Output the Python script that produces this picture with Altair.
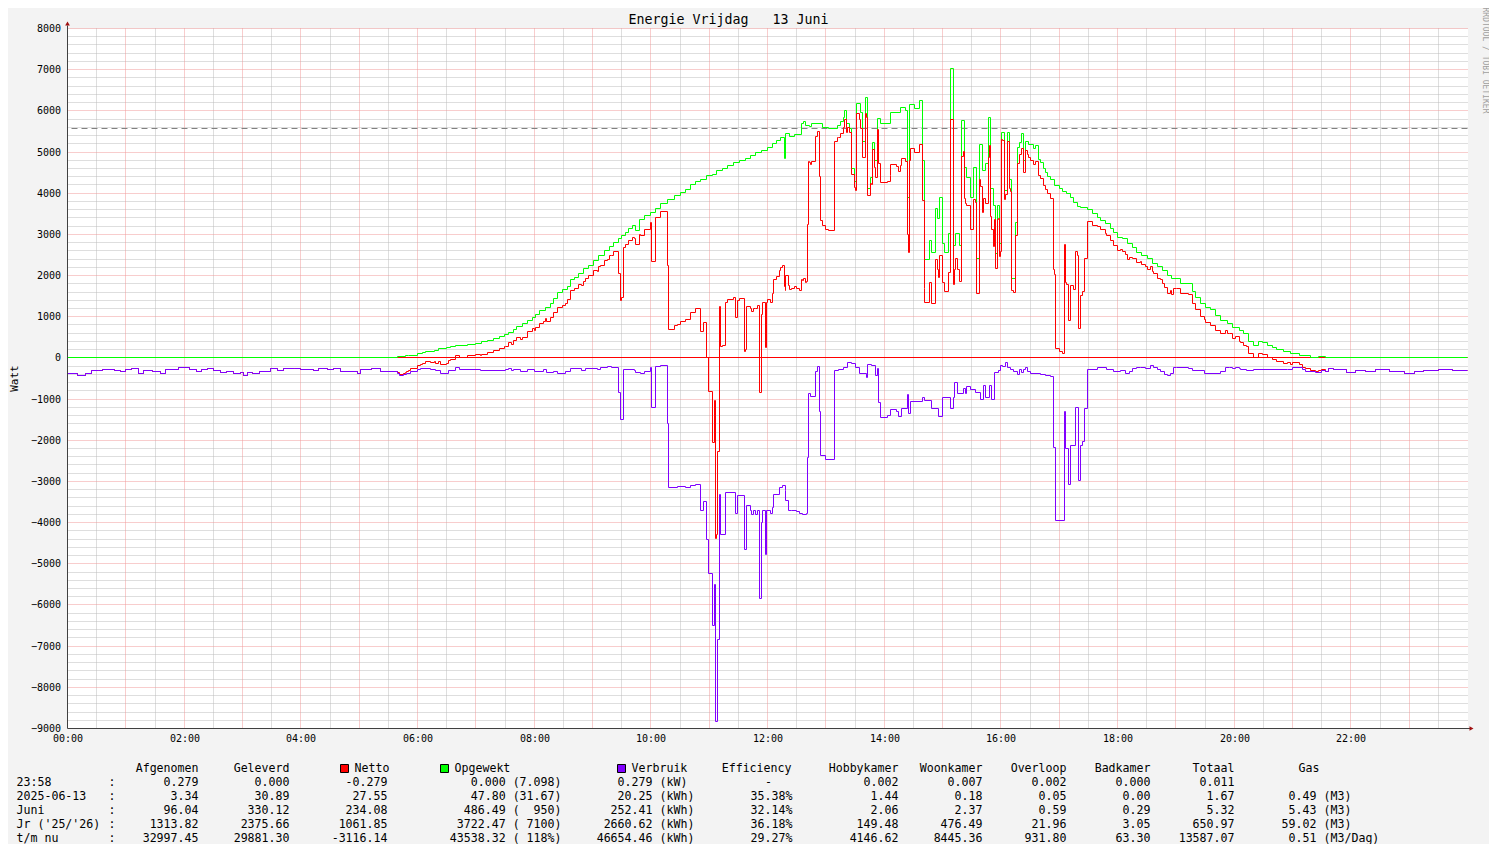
import altair as alt
import pandas as pd

MONO = "DejaVu Sans Mono"
NB = "\u00a0"

TITLE = "Energie Vrijdag   13 Juni"
Y_LABEL = "Watt"
WATERMARK = "RRDTOOL / TOBI OETIKER"

# ---- Opgewekt (generated power, W), step changes ----
GEN_T = ["00:00", "05:39", "05:48", "05:51", "06:00", "06:05", "06:08", "06:17", "06:22", "06:30",
         "06:34", "06:39", "06:51", "07:00", "07:06", "07:12", "07:18", "07:24", "07:29", "07:34",
         "07:39", "07:42", "07:48", "07:53", "07:58", "08:01", "08:06", "08:12", "08:17", "08:20",
         "08:24", "08:29", "08:34", "08:37", "08:41", "08:46", "08:51", "08:56", "09:01", "09:06",
         "09:12", "09:17", "09:22", "09:27", "09:30", "09:34", "09:37", "09:41", "09:44", "09:48",
         "09:53", "10:00", "10:05", "10:10", "10:17", "10:24", "10:30", "10:36", "10:41", "10:46",
         "10:51", "10:57", "11:03", "11:08", "11:14", "11:19", "11:25", "11:31", "11:37", "11:42",
         "11:48", "11:54", "12:00", "12:05", "12:09", "12:13", "12:17", "12:19", "12:23", "12:28",
         "12:35", "12:37", "12:39", "12:43", "12:45", "12:57", "13:03", "13:12", "13:15", "13:18",
         "13:19", "13:21", "13:24", "13:26", "13:29", "13:32", "13:36", "13:38", "13:41", "13:43",
         "13:46", "13:48", "13:50", "13:53", "13:56", "14:07", "14:17", "14:22", "14:24", "14:26",
         "14:31", "14:36", "14:39", "14:41", "14:42", "14:47", "14:49", "14:53", "14:55", "14:57",
         "15:00", "15:02", "15:06", "15:08", "15:11", "15:13", "15:17", "15:20", "15:23", "15:25",
         "15:29", "15:32", "15:35", "15:38", "15:41", "15:44", "15:47", "15:49", "15:52", "15:55",
         "15:57", "15:59", "16:01", "16:04", "16:07", "16:09", "16:11", "16:15", "16:17", "16:19",
         "16:21", "16:23", "16:25", "16:28", "16:34", "16:36", "16:39", "16:41", "16:44", "16:46",
         "16:48", "16:51", "16:55", "17:00", "17:03", "17:08", "17:12", "17:15", "17:19", "17:22",
         "17:29", "17:34", "17:39", "17:43", "17:48", "17:53", "17:56", "18:00", "18:05", "18:10",
         "18:15", "18:20", "18:25", "18:31", "18:36", "18:41", "18:46", "18:51", "18:56", "19:05",
         "19:17", "19:20", "19:25", "19:31", "19:36", "19:41", "19:46", "19:53", "19:58", "20:05",
         "20:10", "20:15", "20:20", "20:25", "20:29", "20:34", "20:39", "20:44", "20:51", "20:58",
         "21:07", "21:19", "21:27", "21:34"]
GEN_W = [0, 32, 57, 65, 97, 121, 154, 178, 219, 243,
         267, 292, 324, 356, 389, 421, 470, 527, 567, 624,
         689, 761, 826, 907, 988, 1053, 1150, 1231, 1328, 1434,
         1596, 1652, 1733, 1895, 1960, 2057, 2163, 2244, 2365, 2487,
         2608, 2705, 2811, 2892, 2973, 3054, 3135, 3216, 3100, 3353,
         3459, 3540, 3621, 3742, 3839, 3945, 4010, 4100, 4200, 4290,
         4340, 4420, 4460, 4560, 4600, 4680, 4740, 4790, 4840, 4920,
         4980, 5040, 5110, 5200, 5280, 5360, 4840, 5460, 5380, 5420,
         5690, 5730, 5650, 5620, 5700, 5600, 5570, 5650, 5750, 5830,
         6010, 5690, 5570, 4590, 4290, 6170, 5950, 5260, 6320, 4110,
         4390, 5240, 4800, 5810, 5690, 5950, 6090, 6010, 3900, 6150,
         6050, 6240, 4800, 2650, 2380, 2850, 2570, 3620, 3380, 3900,
         2790, 2570, 3030, 7020, 2730, 3010, 2730, 5770, 4620, 4390,
         3900, 4620, 2410, 5180, 4550, 4710, 5830, 4110, 3700, 2530,
         3700, 2770, 5480, 4070, 5480, 4330, 1920, 3300, 5120, 5240,
         5440, 4800, 5265, 5180, 5080, 5160, 4810, 4755, 4590, 4510,
         4410, 4330, 4190, 4110, 4050, 3985, 3900, 3780, 3680, 3645,
         3600, 3515, 3420, 3340, 3260, 3135, 3055, 2930, 2890, 2770,
         2690, 2570, 2490, 2405, 2300, 2230, 2120, 2000, 1920, 1800,
         1620, 1475, 1310, 1230, 1165, 1030, 905, 825, 745, 665,
         585, 405, 300, 405, 380, 300, 260, 195, 160, 113,
         57, 16, 32, 0]

# ---- Verbruik (consumption, W, drawn negative), step changes ----
USE_T = ["00:00", "00:10", "00:18", "00:25", "00:32", "00:36", "00:48", "00:54", "01:00", "01:06",
         "01:13", "01:18", "01:27", "01:36", "01:41", "01:54", "02:05", "02:13", "02:18", "02:24",
         "02:30", "02:37", "02:44", "02:51", "02:58", "03:01", "03:05", "03:10", "03:18", "03:29",
         "03:36", "03:42", "03:53", "04:00", "04:13", "04:18", "04:27", "04:34", "04:41", "04:58",
         "05:01", "05:13", "05:22", "05:39", "05:41", "05:46", "05:49", "05:53", "06:00", "06:03",
         "06:13", "06:18", "06:24", "06:32", "06:39", "06:43", "07:05", "07:30", "07:34", "07:37",
         "07:39", "07:46", "07:53", "08:00", "08:10", "08:13", "08:20", "08:24", "08:32", "08:37",
         "08:49", "08:53", "09:05", "09:08", "09:15", "09:20", "09:27", "09:29", "09:32", "09:43",
         "09:44", "09:49", "09:53", "10:00", "10:01", "10:05", "10:10", "10:17", "10:18", "10:27",
         "10:36", "10:41", "10:46", "10:51", "10:54", "10:57", "10:59", "11:03", "11:05", "11:07",
         "11:09", "11:11", "11:12", "11:17", "11:27", "11:29", "11:36", "11:38", "11:42", "11:44",
         "11:46", "11:48", "11:50", "11:52", "11:54", "11:55", "11:58", "11:59", "12:03", "12:05",
         "12:06", "12:12", "12:15", "12:18", "12:19", "12:22", "12:25", "12:30", "12:33", "12:36",
         "12:40", "12:41", "12:42", "12:44", "12:49", "12:51", "12:53", "12:55", "13:00", "13:09",
         "13:13", "13:18", "13:22", "13:26", "13:30", "13:35", "13:42", "13:43", "13:47", "13:51",
         "13:53", "13:54", "13:56", "14:03", "14:06", "14:13", "14:15", "14:18", "14:24", "14:25",
         "14:27", "14:39", "14:42", "14:49", "14:56", "15:00", "15:08", "15:11", "15:12", "15:15",
         "15:22", "15:24", "15:25", "15:29", "15:34", "15:39", "15:42", "15:44", "15:48", "15:50",
         "15:53", "15:58", "16:00", "16:02", "16:05", "16:07", "16:10", "16:13", "16:17", "16:19",
         "16:21", "16:23", "16:25", "16:27", "16:30", "16:41", "16:46", "16:51", "16:54", "16:56",
         "17:05", "17:06", "17:10", "17:12", "17:17", "17:20", "17:22", "17:24", "17:26", "17:29",
         "17:39", "17:49", "17:56", "18:03", "18:08", "18:12", "18:15", "18:20", "18:24", "18:29",
         "18:34", "18:37", "18:41", "18:44", "18:48", "18:51", "18:55", "18:58", "19:01", "19:13",
         "19:17", "19:29", "19:46", "19:51", "19:55", "19:58", "20:01", "20:05", "20:07", "20:13",
         "20:20", "20:55", "21:00", "21:10", "21:13", "21:24", "21:30", "21:34", "21:37", "21:42",
         "21:56", "22:05", "22:15", "22:25", "22:40", "22:55", "23:05", "23:15", "23:30", "23:45"]
USE_W = [-375, -430, -380, -300, -315, -275, -300, -325, -275, -265,
         -375, -315, -325, -380, -290, -235, -290, -325, -290, -245,
         -305, -355, -340, -375, -350, -415, -350, -375, -325, -265,
         -310, -260, -245, -285, -310, -260, -275, -245, -340, -375,
         -290, -265, -325, -375, -430, -405, -375, -325, -290, -245,
         -275, -310, -375, -310, -225, -275, -300, -290, -245, -310,
         -275, -325, -275, -325, -275, -355, -340, -375, -325, -265,
         -310, -245, -275, -243, -211, -227, -834, -1507, -292, -308,
         -356, -389, -340, -243, -1199, -211, -178, -1604, -3159, -3126,
         -3159, -3094, -3078, -3710, -3483, -4399, -5233, -6504, -5492, -8837,
         -6828, -3305, -4293, -3264, -3767, -3345, -4641, -3588, -3710, -3791,
         -3710, -3791, -3710, -5832, -3993, -3694, -4779, -3694, -3775, -3629,
         -3305, -3159, -3110, -3208, -3467, -3710, -3694, -3726, -3775, -3807,
         -3790, -2414, -875, -931, -324, -211, -1296, -2373, -2470, -308,
         -292, -227, -105, -146, -227, -389, -470, -162, -186, -429,
         -267, -1077, -1442, -1400, -1264, -1300, -1425, -1239, -899, -1350,
         -1053, -972, -1030, -1240, -1425, -956, -1239, -956, -591, -875,
         -750, -875, -697, -770, -850, -1020, -672, -956, -672, -1000,
         -348, -308, -186, -211, -105, -227, -292, -324, -405, -292,
         -348, -292, -227, -324, -389, -410, -429, -454, -2171, -3950,
         -1296, -2211, -3078, -2130, -1199, -2965, -2130, -2025, -1239, -292,
         -227, -292, -324, -308, -373, -324, -267, -243, -227, -267,
         -194, -243, -292, -324, -405, -437, -373, -243, -227, -267,
         -308, -373, -324, -243, -227, -267, -227, -267, -292, -308,
         -292, -270, -227, -292, -324, -348, -308, -324, -267, -292,
         -348, -300, -340, -290, -330, -380, -330, -300, -280, -300]

REF_W = 5570  # dashed reference line

Y_TICKS = list(range(-9000, 8001, 1000))
X_TICKS = list(range(0, 24, 2))

# ---- legend table ----
HEADERS = ["Afgenomen", "Geleverd", "Netto", "Opgewekt", "Verbruik", "Efficiency",
           "Hobbykamer", "Woonkamer", "Overloop", "Badkamer", "Totaal", "Gas"]
ROW_LABELS = ["23:58", "2025-06-13", "Juni", "Jr ('25/'26)", "t/m nu"]
AFGENOMEN = ["0.279", "3.34", "96.04", "1313.82", "32997.45"]
GELEVERD = ["0.000", "30.89", "330.12", "2375.66", "29881.30"]
NETTO = ["-0.279", "27.55", "234.08", "1061.85", "-3116.14"]
OPGEWEKT = ["0.000 (7.098)", "47.80 (31.67)", "486.49 (  950)", "3722.47 ( 7100)", "43538.32 ( 118%)"]
VERBRUIK_N = ["0.279", "20.25", "252.41", "2660.62", "46654.46"]
VERBRUIK_U = ["(kW)", "(kWh)", "(kWh)", "(kWh)", "(kWh)"]
EFFICIENCY = ["-", "35.38%", "32.14%", "36.18%", "29.27%"]
HOBBY = ["0.002", "1.44", "2.06", "149.48", "4146.62"]
WOON = ["0.007", "0.18", "2.37", "476.49", "8445.36"]
OVERLOOP = ["0.002", "0.05", "0.59", "21.96", "931.80"]
BAD = ["0.000", "0.00", "0.29", "3.05", "63.30"]
TOTAAL = ["0.011", "1.67", "5.32", "650.97", "13587.07"]
GAS_N = ["", "0.49", "5.43", "59.02", "0.51"]
GAS_U = ["", "(M3)", "(M3)", "(M3)", "(M3/Dag)"]

# ---- styling ----
GREEN = "#00ff00"
RED = "#ff0000"
PURPLE = "#8000ff"
GRID_MINOR = "#bdbdbd"
GRID_MAJOR = "#f09a9a"
AXIS_C = "#404040"
ARROW_C = "#a01010"
OX, OY = 67, 28  # page position of plot origin (incl. 8px page margin)


def hours(t):
    h, m = t.split(":")
    return int(h) + int(m) / 60.0


gen = pd.DataFrame({"h": [hours(t) for t in GEN_T], "w": GEN_W})
use = pd.DataFrame({"h": [hours(t) for t in USE_T], "w": USE_W})
gen = pd.concat([gen, pd.DataFrame({"h": [24.0], "w": [gen.w.iloc[-1]]})], ignore_index=True)
use = pd.concat([use, pd.DataFrame({"h": [24.0], "w": [use.w.iloc[-1]]})], ignore_index=True)
hh = sorted(set(gen.h) | set(use.h))
g = gen.set_index("h").w.reindex(hh).ffill().fillna(0)
u = use.set_index("h").w.reindex(hh).ffill()
net = pd.DataFrame({"h": hh, "w": (g + u).values})

XS = alt.Scale(domain=[0, 24], nice=False, zero=False, round=True)
YS = alt.Scale(domain=[-9000, 8000], nice=False, zero=False, round=True)
XAX = alt.Axis(values=X_TICKS, labelExpr="(datum.value < 10 ? '0' : '') + datum.value + ':00'",
               grid=False, domain=False, ticks=False, labelFont=MONO, labelFontSize=10,
               labelColor="#000000", labelPadding=5, title=None, labelFlush=False, labelOverlap=False)
YAX = alt.Axis(values=Y_TICKS, format="d", grid=False, domain=False, ticks=False, labelFont=MONO,
               labelFontSize=10, labelColor="#000000", labelPadding=7, title=None,
               labelFlush=False, labelOverlap=False)


def X(f):
    return alt.X(f, type="quantitative", scale=XS, axis=XAX)


def Y(f):
    return alt.Y(f, type="quantitative", scale=YS, axis=YAX)


layers = []
# grid
layers.append(alt.Chart(pd.DataFrame({"h": [i + 0.5 for i in range(24)]}))
              .mark_rule(color=GRID_MINOR, strokeDash=[1, 1], strokeWidth=1).encode(x=X("h")))
layers.append(alt.Chart(pd.DataFrame({"w": [v for v in range(-8800, 8000, 200) if v % 1000 != 0]}))
              .mark_rule(color=GRID_MINOR, strokeDash=[1, 1], strokeWidth=1).encode(y=Y("w")))
layers.append(alt.Chart(pd.DataFrame({"h": list(range(1, 24))}))
              .mark_rule(color=GRID_MAJOR, strokeDash=[1, 1], strokeWidth=1).encode(x=X("h")))
layers.append(alt.Chart(pd.DataFrame({"w": list(range(-8000, 8001, 1000))}))
              .mark_rule(color=GRID_MAJOR, strokeDash=[1, 1], strokeWidth=1).encode(y=Y("w")))
# reference dashed line and zero line
layers.append(alt.Chart(pd.DataFrame({"w": [REF_W]}))
              .mark_rule(color="#808080", strokeDash=[6, 4], strokeWidth=1).encode(y=Y("w")))
layers.append(alt.Chart(pd.DataFrame({"w": [0]}))
              .mark_rule(color=RED, strokeWidth=1).encode(y=Y("w")))
# series
layers.append(alt.Chart(gen).mark_line(interpolate="step-after", color=GREEN, strokeWidth=1)
              .encode(x=X("h"), y=Y("w")))
layers.append(alt.Chart(net).mark_line(interpolate="step-after", color=RED, strokeWidth=1)
              .encode(x=X("h"), y=Y("w")))
layers.append(alt.Chart(use).mark_line(interpolate="step-after", color=PURPLE, strokeWidth=1)
              .encode(x=X("h"), y=Y("w")))

one = pd.DataFrame({"a": [0]})
# axis lines and arrows
layers.append(alt.Chart(one).mark_rule(color=AXIS_C, strokeWidth=1)
              .encode(x=alt.value(0), y=alt.value(-3), y2=alt.value(700)))
layers.append(alt.Chart(one).mark_rule(color=AXIS_C, strokeWidth=1)
              .encode(x=alt.value(0), x2=alt.value(1403), y=alt.value(700)))
layers.append(alt.Chart(one).mark_point(shape="triangle-up", filled=True, color=ARROW_C, size=22, opacity=1)
              .encode(x=alt.value(0), y=alt.value(-5)))
layers.append(alt.Chart(one).mark_point(shape="triangle-right", filled=True, color=ARROW_C, size=22, opacity=1)
              .encode(x=alt.value(1404), y=alt.value(700)))


def txt(s, px, py, align="left", size=11.6, color="#000000", angle=0):
    return (alt.Chart(one)
            .mark_text(text=s.replace(" ", NB), align=align, baseline="middle", font=MONO,
                       fontSize=size, color=color, angle=angle)
            .encode(x=alt.value(px - OX), y=alt.value(py - OY)))


def box(px, py, color):
    return (alt.Chart(one).mark_rect(fill=color, stroke="#000000", strokeWidth=1)
            .encode(x=alt.value(px - OX), x2=alt.value(px - OX + 8),
                    y=alt.value(py - OY - 4), y2=alt.value(py - OY + 4)))


layers.append(txt(TITLE, 728, 19, align="center", size=13.3))
layers.append(txt(Y_LABEL, 14, 378, align="center", size=11, angle=270))
layers.append(txt(WATERMARK, 1484, 60, align="center", size=8, color="#a0a0a0", angle=90))

HY = 768
layers.append(txt(HEADERS[0], 198, HY, align="right"))
layers.append(txt(HEADERS[1], 289, HY, align="right"))
layers.append(box(340, HY, RED))
layers.append(txt(HEADERS[2], 354, HY))
layers.append(box(440, HY, GREEN))
layers.append(txt(HEADERS[3], 454, HY))
layers.append(box(617, HY, PURPLE))
layers.append(txt(HEADERS[4], 631, HY))
layers.append(txt(HEADERS[5], 791, HY, align="right"))
layers.append(txt(HEADERS[6], 898, HY, align="right"))
layers.append(txt(HEADERS[7], 982, HY, align="right"))
layers.append(txt(HEADERS[8], 1066, HY, align="right"))
layers.append(txt(HEADERS[9], 1150, HY, align="right"))
layers.append(txt(HEADERS[10], 1234, HY, align="right"))
layers.append(txt(HEADERS[11], 1298, HY))

right_cols = [(AFGENOMEN, 198), (GELEVERD, 289), (NETTO, 387), (OPGEWEKT, 561), (VERBRUIK_N, 652),
              (HOBBY, 898), (WOON, 982), (OVERLOOP, 1066), (BAD, 1150), (TOTAAL, 1234), (GAS_N, 1316)]
for i, lab in enumerate(ROW_LABELS):
    ry = 782 + 14 * i
    layers.append(txt(lab, 16, ry))
    layers.append(txt(":", 108, ry))
    for col, xr in right_cols:
        if col[i]:
            layers.append(txt(col[i], xr, ry, align="right"))
    layers.append(txt(VERBRUIK_U[i], 659, ry))
    if EFFICIENCY[i] == "-":
        layers.append(txt(EFFICIENCY[i], 768, ry, align="center"))
    else:
        layers.append(txt(EFFICIENCY[i], 792, ry, align="right"))
    if GAS_U[i]:
        layers.append(txt(GAS_U[i], 1323, ry))

chart = (alt.layer(*layers)
         .properties(width=1400, height=700, background="#f3f3f3",
                     padding={"left": 59.5, "top": 20.5, "right": 21.5, "bottom": 115.5},
                     autosize=alt.AutoSizeParams(type="none"))
         .configure_view(stroke="transparent", fill="#ffffff"))

chart.save("out.html", embed_options={"renderer": "svg", "actions": False})
